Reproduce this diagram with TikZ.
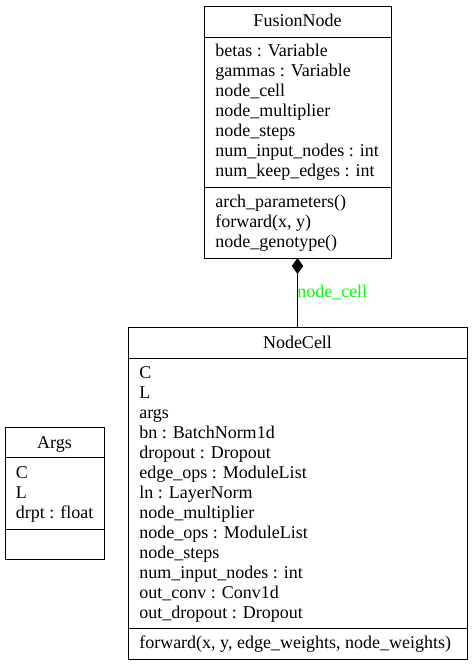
\documentclass[tikz,border=0pt]{standalone}
\usepackage{fontspec}
\setmainfont{Liberation Serif}
\usetikzlibrary{arrows.meta, positioning}
\definecolor{labelgreen}{RGB}{0,255,0}

\begin{document}
\begin{tikzpicture}[x=0.75pt, y=-0.75pt,
    box/.style={draw, line width=0.75pt, anchor=north west, inner sep=0pt, outer sep=0pt},
    row/.style={anchor=base west, inner sep=0pt, font=\fontsize{13.5}{15}\selectfont},
    title/.style={anchor=base, inner sep=0pt, font=\fontsize{13.5}{15}\selectfont},
    lbl/.style={anchor=base west, inner sep=0pt, text=labelgreen, font=\fontsize{13.5}{15}\selectfont}]
    \useasboundingbox (0,0) rectangle (472,665);

    % FusionNode
    \node[box, minimum width=187*0.75pt, minimum height=31*0.75pt] (fusion_t) at (204,6) {};
    \node[box, minimum width=187*0.75pt, minimum height=150.5*0.75pt] (fusion_a) at (204,37) {};
    \node[box, minimum width=187*0.75pt, minimum height=70.5*0.75pt] (fusion_m) at (204,187.5) {};
    \node[title] (fusion_name) at (297.5,26.5) {FusionNode};
    \foreach \t [count=\i from 0] in {betas : Variable, gammas : Variable, node\_cell,
        node\_multiplier, node\_steps, num\_input\_nodes : int, num\_keep\_edges : int}
        \node[row] (fusion_a\i) at (215,{56.8+20*\i}) {\t};
    \foreach \t [count=\i from 0] in {arch\_parameters(), {forward(x, y)}, node\_genotype()}
        \node[row] (fusion_m\i) at (215,{207.6+20*\i}) {\t};

    % NodeCell
    \node[box, minimum width=339*0.75pt, minimum height=30.5*0.75pt] (cell_t) at (128,327.5) {};
    \node[box, minimum width=339*0.75pt, minimum height=270.5*0.75pt] (cell_a) at (128,358) {};
    \node[box, minimum width=339*0.75pt, minimum height=30.5*0.75pt] (cell_m) at (128,628.5) {};
    \node[title] (cell_name) at (297.5,348) {NodeCell};
    \foreach \t [count=\i from 0] in {C, L, args, bn : BatchNorm1d, dropout : Dropout,
        edge\_ops : ModuleList, ln : LayerNorm, node\_multiplier, node\_ops : ModuleList,
        node\_steps, num\_input\_nodes : int, out\_conv : Conv1d, out\_dropout : Dropout}
        \node[row] (cell_a\i) at (139,{378.3+20*\i}) {\t};
    \node[row] (cell_m0) at (139,648.5) {forward(x, y, edge\_weights, node\_weights)};

    % Args
    \node[box, minimum width=99*0.75pt, minimum height=30*0.75pt] (args_t) at (5,427.5) {};
    \node[box, minimum width=99*0.75pt, minimum height=71.5*0.75pt] (args_a) at (5,457.5) {};
    \node[box, minimum width=99*0.75pt, minimum height=30*0.75pt] (args_m) at (5,529) {};
    \node[title] (args_name) at (54.5,448.3) {Args};
    \foreach \t [count=\i from 0] in {C, L, drpt : float}
        \node[row] (args_a\i) at (15.7,{478.3+20*\i}) {\t};

    % composition
    \draw[line width=0.75pt, {Diamond[length=12pt, width=8.5pt]}-] (fusion_m.south) -- (cell_t.north);
    \node[lbl] (cell_lbl) at (297,297) {node\_cell};
\end{tikzpicture}
\end{document}
